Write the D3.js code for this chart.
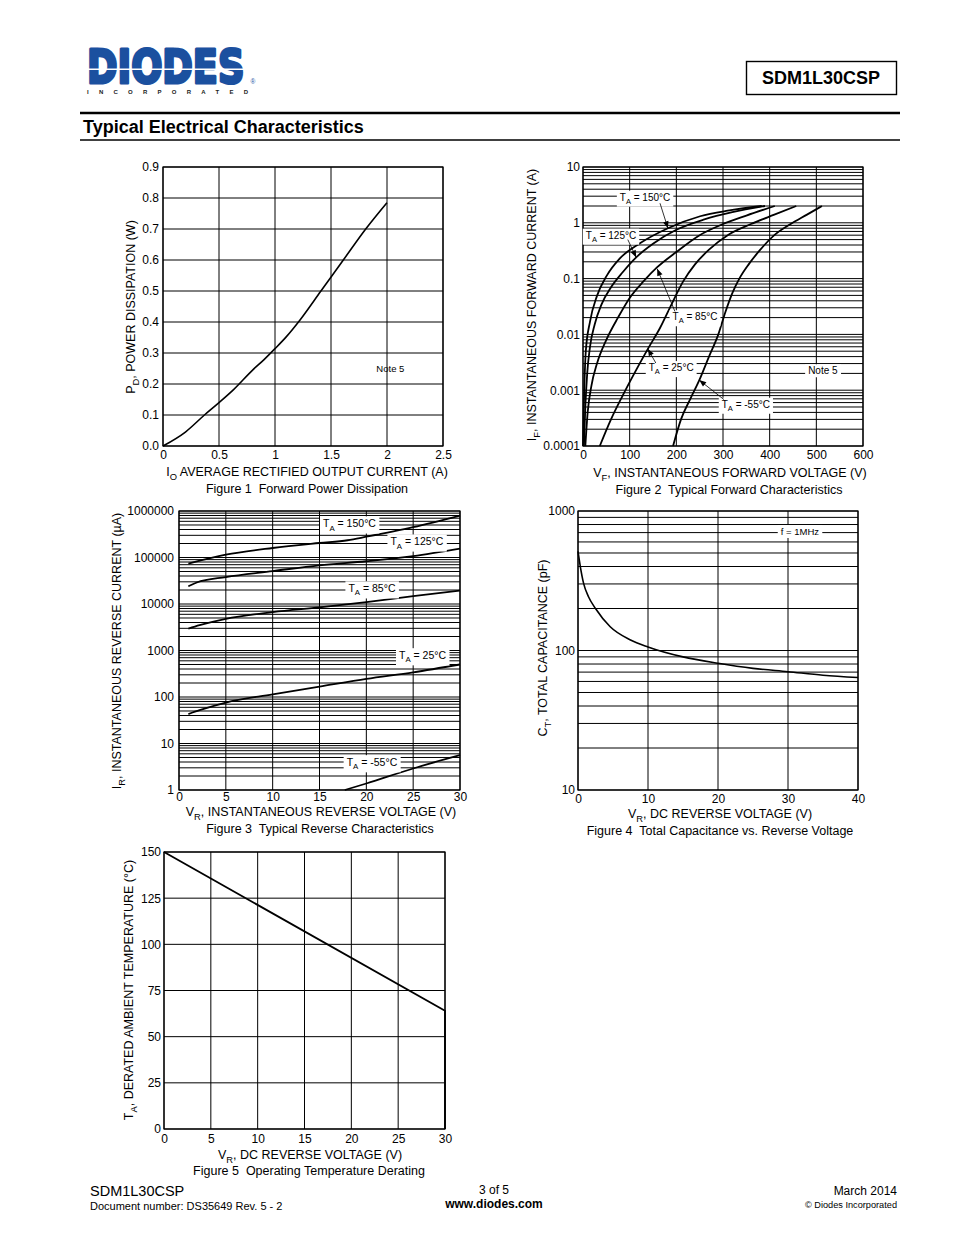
<!DOCTYPE html>
<html>
<head>
<meta charset="utf-8">
<script src="https://cdn.jsdelivr.net/npm/d3@7"></script>
<style>
  body { margin: 0; background: #fff; }
</style>
</head>
<body>
<script>
// Font used everywhere on the page
var FONT = "'Liberation Sans', Arial, Helvetica, sans-serif";

// ---------- Figure 1: forward power dissipation ----------
var fig1Current = [0, 0.2, 0.37, 0.5, 0.63, 0.8, 0.9, 1.0, 1.1, 1.22, 1.41, 1.61, 1.81, 2.0];
var fig1Power = [0, 0.045, 0.1, 0.14, 0.182, 0.245, 0.278, 0.314, 0.352, 0.405, 0.5, 0.6, 0.7, 0.785];
var fig1XTicks = [0, 0.5, 1, 1.5, 2, 2.5];
var fig1YTicks = [0, 0.1, 0.2, 0.3, 0.4, 0.5, 0.6, 0.7, 0.8, 0.9];

// ---------- Figure 2: typical forward characteristics ----------
var fig2V150 = [0, 2, 6, 15, 30, 51, 79, 122, 182, 251, 310, 383];
var fig2I150 = [0.0001, 0.0006, 0.005, 0.017, 0.049, 0.113, 0.23, 0.43, 0.8, 1.31, 1.65, 2];
var fig2V125 = [2, 5, 9, 15, 25, 40, 60, 85, 114, 150, 200, 260, 320, 390];
var fig2I125 = [0.0001, 0.0005, 0.002, 0.006, 0.015, 0.035, 0.07, 0.13, 0.24, 0.42, 0.75, 1.15, 1.55, 2];
var fig2V85 = [5, 10, 18, 30, 50, 75, 100, 130, 159, 200, 250, 300, 350, 411];
var fig2I85 = [0.0001, 0.0004, 0.0012, 0.003, 0.008, 0.02, 0.045, 0.09, 0.16, 0.3, 0.6, 0.95, 1.35, 2];
var fig2V25 = [36, 60, 85, 110, 139, 165, 190, 215, 240, 270, 310, 360, 410, 457];
var fig2I25 = [0.0001, 0.0003, 0.0008, 0.002, 0.0055, 0.013, 0.035, 0.09, 0.18, 0.33, 0.6, 0.95, 1.4, 2];
var fig2Vm55 = [193, 210, 230, 249, 270, 290, 305, 320, 335, 355, 380, 410, 445, 480, 512];
var fig2Im55 = [0.0001, 0.0003, 0.0007, 0.0015, 0.004, 0.01, 0.025, 0.055, 0.1, 0.18, 0.33, 0.6, 0.95, 1.4, 2];
var fig2XTicks = [0, 100, 200, 300, 400, 500, 600];
var fig2YTicks = [0.0001, 0.001, 0.01, 0.1, 1, 10];
// annotation labels [text temp, label V, label I, arrow start V, I, arrow tip V, I]
var fig2Notes = [
  ["150", 133, 2.88, 165, 2.24, 182, 0.8],
  ["125", 60, 0.6, 96, 0.5, 114, 0.24],
  ["85", 240, 0.0207, 197, 0.0258, 159, 0.15],
  ["25", 189, 0.00254, 156, 0.00307, 139, 0.0055],
  ["-55", 349, 0.00056, 302, 0.00068, 249, 0.00152]
];

// ---------- Figure 3: typical reverse characteristics ----------
var fig3V150 = [1, 5, 10, 15, 18, 20, 25, 30];
var fig3I150 = [74000, 115000, 160000, 205000, 235000, 280000, 450000, 800000];
var fig3V125 = [1, 1.9, 5, 10, 15, 20, 25, 30];
var fig3I125 = [24000, 29000, 38000, 51000, 68000, 83000, 107000, 155000];
var fig3V85 = [1, 2.2, 5, 10, 15, 20, 25, 30];
var fig3I85 = [2950, 3500, 4800, 6700, 8500, 11000, 14800, 19500];
var fig3V25 = [1, 2.2, 5, 10, 15, 20, 25, 30];
var fig3I25 = [43, 52, 76, 114, 167, 245, 340, 500];
var fig3Vm55 = [17.7, 20, 25, 30];
var fig3Im55 = [1, 1.38, 2.9, 5.6];
var fig3XTicks = [0, 5, 10, 15, 20, 25, 30];
var fig3YTicks = [1, 10, 100, 1000, 10000, 100000, 1000000];
// label positions [temp, V, I]
var fig3Notes = [["150", 18.2, 533000], ["125", 25.4, 218000], ["85", 20.6, 21400], ["25", 26, 780], ["-55", 20.6, 3.9]];

// ---------- Figure 4: total capacitance ----------
var fig4Volt = [0, 0.33, 0.8, 1.5, 2.5, 4.6, 7.5, 10, 15, 20, 25, 30, 35, 40];
var fig4Cap = [513, 400, 303, 243, 200, 148, 119, 106, 90, 81, 74.5, 70.5, 66.5, 64];
var fig4XTicks = [0, 10, 20, 30, 40];
var fig4YTicks = [10, 100, 1000];

// ---------- Figure 5: operating temperature derating ----------
var fig5Volt = [0, 30, 30];
var fig5Temp = [150, 64, 0];
var fig5XTicks = [0, 5, 10, 15, 20, 25, 30];
var fig5YTicks = [0, 25, 50, 75, 100, 125, 150];

// Page svg
var svg = d3.select("body").append("svg")
  .attr("width", 954)
  .attr("height", 1235)
  .attr("font-family", FONT);

var defs = svg.append("defs");
defs.append("marker")
  .attr("id", "arrow")
  .attr("viewBox", "0 0 10 10")
  .attr("refX", 10).attr("refY", 5)
  .attr("markerUnits", "userSpaceOnUse")
  .attr("markerWidth", 8).attr("markerHeight", 7)
  .attr("orient", "auto")
  .append("path").attr("d", "M0,1L10,5L0,9Z").attr("fill", "#000");

// ---------- helpers ----------
function logGrid(lo, hi) {
  var vals = [];
  for (var d = lo; d < hi * 0.999; d *= 10) {
    for (var k = 1; k <= 9; k++) vals.push(d * k);
  }
  vals.push(hi);
  return vals;
}

// text made of pieces, some of them subscripts
function addParts(t, parts, size) {
  var shift = size * 0.3;
  var wasSub = false;
  parts.forEach(function(p) {
    var span = t.append("tspan").text(p[0]);
    if (p[1]) {
      span.attr("font-size", size * 0.75).attr("dy", wasSub ? 0 : shift);
      wasSub = true;
    } else {
      if (wasSub) span.attr("dy", -shift);
      wasSub = false;
    }
  });
}

function tempParts(temp) {
  return [["T", false], ["A", true], [" = " + temp + "°C", false]];
}

function plainText(x, y, str, size, anchor, weight) {
  return svg.append("text")
    .attr("x", x).attr("y", y)
    .attr("font-size", size)
    .attr("text-anchor", anchor || "start")
    .attr("font-weight", weight || "normal")
    .style("white-space", "pre")
    .text(str);
}

function xTitle(cx, cy, parts) {
  var t = svg.append("text").attr("x", cx).attr("y", cy).attr("dy", "0.35em")
    .attr("text-anchor", "middle").attr("font-size", 12.5);
  addParts(t, parts, 12.5);
}

function yTitle(cx, cy, parts) {
  var t = svg.append("text")
    .attr("transform", `translate(${cx},${cy}) rotate(-90)`)
    .attr("dy", "0.35em")
    .attr("text-anchor", "middle").attr("font-size", 12.5);
  addParts(t, parts, 12.5);
}

function boxLabel(g, px, py, parts, size, boxed) {
  var t = g.append("text").attr("x", px).attr("y", py).attr("dy", "0.35em")
    .attr("text-anchor", "middle").attr("font-size", size);
  addParts(t, parts, size);
  if (boxed) {
    var b = t.node().getBBox();
    g.insert("rect", function() { return t.node(); })
      .attr("x", b.x - 3).attr("y", b.y - 1)
      .attr("width", b.width + 6).attr("height", b.height + 2)
      .attr("fill", "#fff");
  }
}

// frame, grid and tick labels of one plot
function drawPlot(cfg) {
  var g = svg.append("g").attr("transform", `translate(${cfg.left},${cfg.top})`);
  var x = cfg.x, y = cfg.y;

  g.selectAll("line.vgrid").data(cfg.xGrid).join("line").attr("class", "vgrid")
    .attr("x1", d => x(d)).attr("x2", d => x(d))
    .attr("y1", 0).attr("y2", cfg.h)
    .attr("stroke", "#000").attr("stroke-width", 1);
  g.selectAll("line.hgrid").data(cfg.yGrid).join("line").attr("class", "hgrid")
    .attr("x1", 0).attr("x2", cfg.w)
    .attr("y1", d => y(d)).attr("y2", d => y(d))
    .attr("stroke", "#000").attr("stroke-width", 1);
  g.append("rect").attr("width", cfg.w).attr("height", cfg.h)
    .attr("fill", "none").attr("stroke", "#000").attr("stroke-width", 1.2);

  g.append("g")
    .attr("transform", `translate(0,${cfg.h})`)
    .call(d3.axisBottom(x).tickValues(cfg.xTicks).tickSize(0).tickPadding(cfg.xPad).tickFormat(cfg.xFmt))
    .call(a => a.select(".domain").remove())
    .attr("font-family", FONT).attr("font-size", 12);
  g.append("g")
    .call(d3.axisLeft(y).tickValues(cfg.yTicks).tickSize(0).tickPadding(cfg.yPad).tickFormat(cfg.yFmt))
    .call(a => a.select(".domain").remove())
    .attr("font-family", FONT).attr("font-size", 12);
  return g;
}

function drawCurve(g, x, y, xs, ys, width) {
  var pts = xs.map((v, i) => [v, ys[i]]);
  var line = d3.line().x(d => x(d[0])).y(d => y(d[1])).curve(d3.curveMonotoneX);
  g.append("path").attr("d", line(pts))
    .attr("fill", "none").attr("stroke", "#000").attr("stroke-width", width || 1.8)
    .attr("stroke-linejoin", "round");
}

// ---------- header ----------
var LOGO_BLUE = "#1b509f";
// logo word, stretched tall with a transform
svg.append("text")
  .attr("transform", "translate(87,82.5) scale(1.08,1.37)")
  .attr("font-family", "'DejaVu Sans', sans-serif")
  .attr("font-weight", "bold")
  .attr("font-size", 34)
  .attr("fill", LOGO_BLUE)
  .attr("stroke", LOGO_BLUE).attr("stroke-width", 2.3).attr("stroke-linejoin", "round")
  .text("DIODES");
svg.append("rect").attr("x", 84).attr("y", 68.5).attr("width", 166).attr("height", 1.5).attr("fill", "#fff");
plainText(250.5, 84, "®", 6.5, "start").attr("fill", LOGO_BLUE);
svg.append("text")
  .attr("x", 87).attr("y", 93.5)
  .attr("font-size", 6).attr("font-weight", "bold")
  .attr("textLength", 161).attr("lengthAdjust", "spacing")
  .attr("fill", "#222")
  .text("INCORPORATED");

svg.append("rect").attr("x", 746.5).attr("y", 61.5).attr("width", 150).attr("height", 33)
  .attr("fill", "none").attr("stroke", "#000").attr("stroke-width", 1.4);
plainText(821, 84, "SDM1L30CSP", 18, "middle", "bold");

svg.append("line").attr("x1", 80).attr("x2", 900).attr("y1", 113).attr("y2", 113)
  .attr("stroke", "#000").attr("stroke-width", 2.5);
plainText(83, 133, "Typical Electrical Characteristics", 18, "start", "bold");
svg.append("line").attr("x1", 80).attr("x2", 900).attr("y1", 140).attr("y2", 140)
  .attr("stroke", "#000").attr("stroke-width", 1.3);

// ---------- Figure 1 ----------
var x1 = d3.scaleLinear().domain([0, 2.5]).range([0, 280]);
var y1 = d3.scaleLinear().domain([0, 0.9]).range([279, 0]);
var g1 = drawPlot({
  left: 163, top: 167, w: 280, h: 279, x: x1, y: y1,
  xGrid: fig1XTicks, yGrid: fig1YTicks,
  xTicks: fig1XTicks, yTicks: fig1YTicks,
  xFmt: d => String(d), yFmt: d3.format(".1f"),
  xPad: 4, yPad: 4
});
drawCurve(g1, x1, y1, fig1Current, fig1Power, 1.6);
boxLabel(g1, x1(2.03), y1(0.248), [["Note 5", false]], 9.5, false);
yTitle(131, 307, [["P", false], ["D", true], [", POWER DISSIPATION (W)", false]]);
xTitle(307, 472, [["I", false], ["O", true], [" AVERAGE RECTIFIED OUTPUT CURRENT (A)", false]]);
plainText(307, 493, "Figure 1  Forward Power Dissipation", 12.5, "middle");

// ---------- Figure 2 ----------
var x2 = d3.scaleLinear().domain([0, 600]).range([0, 280]);
var y2 = d3.scaleLog().domain([0.0001, 10]).range([279, 0]);
var g2 = drawPlot({
  left: 583, top: 167, w: 280, h: 279, x: x2, y: y2,
  xGrid: fig2XTicks, yGrid: logGrid(0.0001, 10),
  xTicks: fig2XTicks, yTicks: fig2YTicks,
  xFmt: d => String(d), yFmt: d => String(d),
  xPad: 4, yPad: 3
});
drawCurve(g2, x2, y2, fig2V150, fig2I150);
drawCurve(g2, x2, y2, fig2V125, fig2I125);
drawCurve(g2, x2, y2, fig2V85, fig2I85);
drawCurve(g2, x2, y2, fig2V25, fig2I25);
drawCurve(g2, x2, y2, fig2Vm55, fig2Im55);
fig2Notes.forEach(function(n) {
  boxLabel(g2, x2(n[1]), y2(n[2]), tempParts(n[0]), 10, true);
  g2.append("line")
    .attr("x1", x2(n[3])).attr("y1", y2(n[4]))
    .attr("x2", x2(n[5])).attr("y2", y2(n[6]))
    .attr("stroke", "#000").attr("stroke-width", 0.8)
    .attr("marker-end", "url(#arrow)");
});
boxLabel(g2, x2(514), y2(0.00223), [["Note 5", false]], 10, true);
yTitle(532, 305, [["I", false], ["F", true], [", INSTANTANEOUS FORWARD CURRENT (A)", false]]);
xTitle(730, 473, [["V", false], ["F", true], [", INSTANTANEOUS FORWARD VOLTAGE (V)", false]]);
plainText(729, 494, "Figure 2  Typical Forward Characteristics", 12.5, "middle");

// ---------- Figure 3 ----------
var x3 = d3.scaleLinear().domain([0, 30]).range([0, 281]);
var y3 = d3.scaleLog().domain([1, 1000000]).range([279, 0]);
var g3 = drawPlot({
  left: 179, top: 511, w: 281, h: 279, x: x3, y: y3,
  xGrid: fig3XTicks, yGrid: logGrid(1, 1000000),
  xTicks: fig3XTicks, yTicks: fig3YTicks,
  xFmt: d => String(d), yFmt: d => String(d),
  xPad: 2, yPad: 5
});
drawCurve(g3, x3, y3, fig3V150, fig3I150);
drawCurve(g3, x3, y3, fig3V125, fig3I125);
drawCurve(g3, x3, y3, fig3V85, fig3I85);
drawCurve(g3, x3, y3, fig3V25, fig3I25);
drawCurve(g3, x3, y3, fig3Vm55, fig3Im55);
fig3Notes.forEach(function(n) {
  boxLabel(g3, x3(n[1]), y3(n[2]), tempParts(n[0]), 10.5, true);
});
yTitle(117, 651, [["I", false], ["R", true], [", INSTANTANEOUS REVERSE CURRENT (µA)", false]]);
xTitle(321, 812, [["V", false], ["R", true], [", INSTANTANEOUS REVERSE VOLTAGE (V)", false]]);
plainText(320, 833, "Figure 3  Typical Reverse Characteristics", 12.5, "middle");

// ---------- Figure 4 ----------
var x4 = d3.scaleLinear().domain([0, 40]).range([0, 280]);
var y4 = d3.scaleLog().domain([10, 1000]).range([279, 0]);
var g4 = drawPlot({
  left: 578, top: 511, w: 280, h: 279, x: x4, y: y4,
  xGrid: fig4XTicks, yGrid: logGrid(10, 1000),
  xTicks: fig4XTicks, yTicks: fig4YTicks,
  xFmt: d => String(d), yFmt: d => String(d),
  xPad: 4, yPad: 3
});
drawCurve(g4, x4, y4, fig4Volt, fig4Cap, 1.6);
boxLabel(g4, x4(31.7), y4(711), [["f = 1MHz", false]], 9.5, true);
yTitle(543, 648, [["C", false], ["T", true], [", TOTAL CAPACITANCE (pF)", false]]);
xTitle(720, 814, [["V", false], ["R", true], [", DC REVERSE VOLTAGE (V)", false]]);
plainText(720, 835, "Figure 4  Total Capacitance vs. Reverse Voltage", 12.5, "middle");

// ---------- Figure 5 ----------
var x5 = d3.scaleLinear().domain([0, 30]).range([0, 281]);
var y5 = d3.scaleLinear().domain([0, 150]).range([277, 0]);
var g5 = drawPlot({
  left: 164, top: 852, w: 281, h: 277, x: x5, y: y5,
  xGrid: fig5XTicks, yGrid: fig5YTicks,
  xTicks: fig5XTicks, yTicks: fig5YTicks,
  xFmt: d => String(d), yFmt: d => String(d),
  xPad: 5, yPad: 3
});
var derate = d3.line().x((d, i) => x5(d)).y((d, i) => y5(fig5Temp[i]));
g5.append("path").attr("d", derate(fig5Volt))
  .attr("fill", "none").attr("stroke", "#000").attr("stroke-width", 1.8);
yTitle(129, 990, [["T", false], ["A", true], [", DERATED AMBIENT TEMPERATURE (°C)", false]]);
xTitle(310, 1155, [["V", false], ["R", true], [", DC REVERSE VOLTAGE (V)", false]]);
plainText(309, 1175, "Figure 5  Operating Temperature Derating", 12.5, "middle");

// ---------- footer ----------
plainText(90, 1196, "SDM1L30CSP", 14.5, "start");
plainText(90, 1210, "Document number: DS35649 Rev. 5 - 2", 11, "start");
plainText(494, 1194, "3 of 5", 12, "middle");
plainText(494, 1208, "www.diodes.com", 12, "middle", "bold");
plainText(897, 1195, "March 2014", 12, "end");
plainText(897, 1208, "© Diodes Incorporated", 9.2, "end");
</script>
</body>
</html>
